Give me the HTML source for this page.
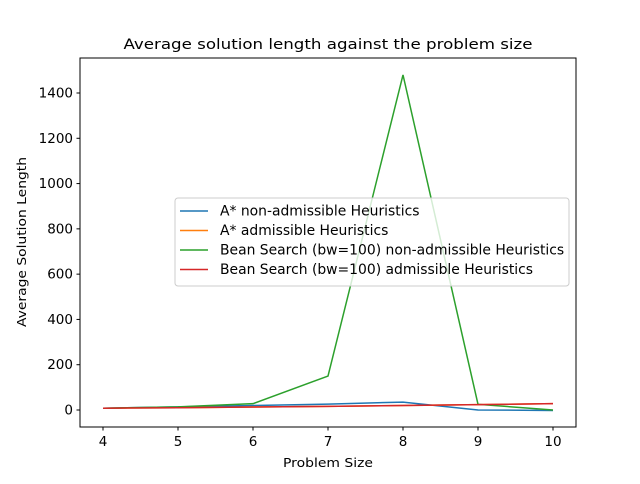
<!DOCTYPE html>
<html><head><meta charset="utf-8"><style>
body{margin:0;background:#fff;font-family:"DejaVu Sans","Liberation Sans",sans-serif;}
svg text{font-family:"DejaVu Sans","Liberation Sans",sans-serif;}
</style></head><body>
<svg id="chart" width="640" height="480" xmlns="http://www.w3.org/2000/svg">
<rect width="640" height="480" fill="#fff"/>
<text x="328" y="49" font-size="14.4" text-anchor="middle" textLength="409" lengthAdjust="spacingAndGlyphs">Average solution length against the problem size</text>
<g id="plot"></g>
<rect x="80" y="58" width="496" height="369" fill="none" stroke="#000" stroke-width="1"/>
<text x="328" y="467" font-size="12" text-anchor="middle" textLength="90" lengthAdjust="spacingAndGlyphs">Problem Size</text>
<text transform="translate(26,242) rotate(-90)" font-size="12" text-anchor="middle" textLength="170" lengthAdjust="spacingAndGlyphs">Average Solution Length</text>
<g id="legend"></g>
</svg>
<script>
const categories=[4,5,6,7,8,9,10];
const astarNonAdm=[8,14,20,26,35,0,-2];
const astarAdm=[8,10,13,16,20,24,28];
const beamNonAdm=[8,14,28,150,1480,25,0];
const beamAdm=[8,10,13,16,20,24,28];
const xTicks=[4,5,6,7,8,9,10];
const yTicks=[0,200,400,600,800,1000,1200,1400];
const seriesNames=["A* non-admissible Heuristics","A* admissible Heuristics","Bean Search (bw=100) non-admissible Heuristics","Bean Search (bw=100) admissible Heuristics"];
const colors=["#1f77b4","#ff7f0e","#2ca02c","#d62728"];
const series=[astarNonAdm,astarAdm,beamNonAdm,beamAdm];
const NS="http://www.w3.org/2000/svg";
const x=v=>103+(v-4)*75;
const y=v=>410-v*(317/1400);
const plot=document.getElementById('plot');
function mk(t,a,p){const e=document.createElementNS(NS,t);for(const k in a)e.setAttribute(k,a[k]);p.appendChild(e);return e;}
xTicks.forEach(t=>{
 const l=mk('line',{x1:x(t),x2:x(t),y1:427,y2:430.5,stroke:'#000'},plot);
 
 
 const tx=mk('text',{x:x(t),y:446,'font-size':13.5,'text-anchor':'middle'},plot);tx.textContent=t;
 
 
});
yTicks.forEach(t=>{
 const l=mk('line',{x1:76.5,x2:80,y1:y(t),y2:y(t),stroke:'#000'},plot);
 
 
 const tx=mk('text',{x:73,y:y(t)+4.5,'font-size':13.5,'text-anchor':'end'},plot);tx.textContent=t;
 
 
});
series.forEach((s,i)=>{
 const p=mk('polyline',{points:s.map((v,j)=>x(categories[j])+','+y(v)).join(' '),fill:'none',stroke:colors[i],'stroke-width':1.5},plot);
 
 
});
const lg=document.getElementById('legend');
const box=mk('rect',{x:175,y:198,width:394,height:88,rx:3,fill:'#fff','fill-opacity':0.8,stroke:'#ccc'},lg);


seriesNames.forEach((n,i)=>{
 const yy=211+i*19.5;
 const l=mk('line',{x1:180,x2:208,y1:yy,y2:yy,stroke:colors[i],'stroke-width':1.5},lg);
 
 
 const t=mk('text',{x:220,y:yy+4.5,'font-size':13.9},lg);t.textContent=n;
 
 
});
</script>
</body></html>
